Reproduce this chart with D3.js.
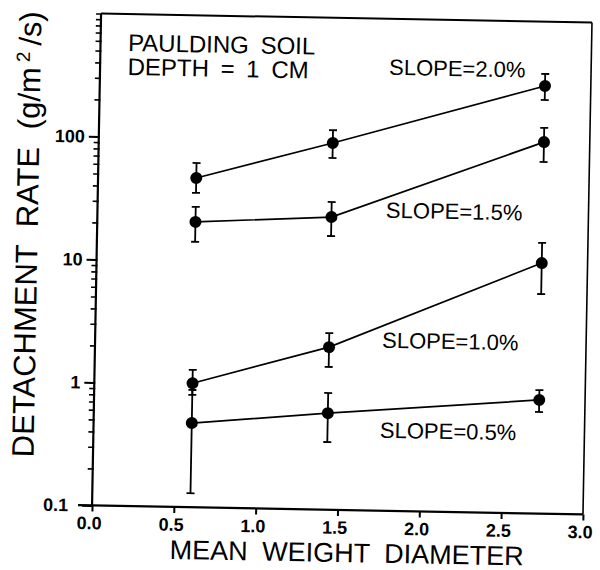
<!DOCTYPE html>
<html>
<head>
<meta charset="utf-8">
<script src="https://cdn.jsdelivr.net/npm/d3@7/dist/d3.min.js"></script>
<style>
  html, body { margin: 0; padding: 0; background: #fff; }
  svg { display: block; }
  text { font-family: "Liberation Sans", Arial, sans-serif; fill: #000; }
</style>
</head>
<body>
<svg id="chart" width="600" height="570"></svg>
<script>
// ---- data ----
const meanWeightDiameter = [0.60, 1.43, 2.72];

const seriesLabels = ["SLOPE=2.0%", "SLOPE=1.5%", "SLOPE=1.0%", "SLOPE=0.5%"];

const rateSlope20 = [47.6, 96, 300];
const lowSlope20  = [36, 72.5, 231];
const highSlope20 = [63, 122, 376];

const rateSlope15 = [20.9, 24.0, 105];
const lowSlope15  = [14.4, 16.8, 72.3];
const highSlope15 = [27.7, 31.8, 137];

const rateSlope10 = [1.02, 2.10, 10.9];
const lowSlope10  = [0.82, 1.45, 6.1];
const highSlope10 = [1.31, 2.73, 15.9];

const rateSlope05 = [0.484, 0.61, 0.84];
const lowSlope05  = [0.130, 0.355, 0.67];
const highSlope05 = [0.90, 0.89, 1.01];

const xTickValues = [0, 0.5, 1.0, 1.5, 2.0, 2.5, 3.0];
const xTickLabels = ["0.0", "0.5", "1.0", "1.5", "2.0", "2.5", "3.0"];
const yTickValues = [0.1, 1, 10, 100];
const yTickLabels = ["0.1", "1", "10", "100"];

const noteLines = ["PAULDING SOIL", "DEPTH = 1 CM"];
const xTitle = "MEAN WEIGHT DIAMETER";

// ---- build ----
const series = [
  { label: seriesLabels[0], rate: rateSlope20, low: lowSlope20, high: highSlope20 },
  { label: seriesLabels[1], rate: rateSlope15, low: lowSlope15, high: highSlope15 },
  { label: seriesLabels[2], rate: rateSlope10, low: lowSlope10, high: highSlope10 },
  { label: seriesLabels[3], rate: rateSlope05, low: lowSlope05, high: highSlope05 }
];
const labelPos = [[385.5, 74], [385, 217], [383.5, 347], [383, 437]];

const L = 96.5, R = 587.5, T = 18, B = 510;
const x = d3.scaleLinear().domain([0, 3]).range([L, R]);
const y = d3.scaleLog().domain([0.1, 1000]).range([B, T]);

const svg = d3.select("#chart");
const g = svg.append("g").attr("transform", "rotate(1.05, 342, 265)");

// frame (top and right)
g.append("line").attr("x1", L).attr("x2", R).attr("y1", T).attr("y2", T)
  .attr("stroke", "#000").attr("stroke-width", 2);
g.append("line").attr("x1", R).attr("x2", R).attr("y1", T).attr("y2", B)
  .attr("stroke", "#000").attr("stroke-width", 1.6);

// minor y ticks
const minors = [];
[0.1, 1, 10, 100].forEach(dec => { for (let k = 2; k <= 10; k++) minors.push(dec * k); });
g.append("g").attr("transform", `translate(${L},0)`)
  .call(d3.axisLeft(y).tickValues(minors).tickSize(5).tickFormat(""))
  .call(a => a.select(".domain").remove())
  .call(a => a.selectAll("line").attr("stroke-width", 1.6).attr("x2", -5).attr("x1", 1));

// major y axis
const yAx = g.append("g").attr("transform", `translate(${L},0)`)
  .call(d3.axisLeft(y).tickValues(yTickValues).tickSize(10).tickPadding(4)
    .tickFormat((d, i) => yTickLabels[i]).tickSizeOuter(0));
yAx.attr("font-size", 18);
yAx.select(".domain").attr("stroke-width", 2.2).attr("d", `M0,${B}V${T}`);
yAx.selectAll("line").attr("stroke-width", 2);
yAx.selectAll("text").style("font-size", "18px").style("font-weight", "bold")
  .style("font-family", '"Liberation Sans", Arial, sans-serif')
  .attr("dx", (d) => d === 0.1 ? -10 : 0);

// x axis
const xAx = g.append("g").attr("transform", `translate(0,${B})`)
  .call(d3.axisBottom(x).tickValues(xTickValues).tickSize(6).tickPadding(5)
    .tickFormat((d, i) => xTickLabels[i]).tickSizeOuter(0));
xAx.attr("font-size", 18);
xAx.select(".domain").attr("stroke-width", 2.2).attr("d", `M${L - 14},0H${R}`);
xAx.selectAll("line").attr("stroke-width", 2);
xAx.selectAll("text").style("font-size", "18px").style("font-weight", "bold")
  .style("font-family", '"Liberation Sans", Arial, sans-serif').attr("dx", -3);

// series
const line = d3.line().x(d => x(d.x)).y(d => y(d.v));
series.forEach((s, si) => {
  const pts = meanWeightDiameter.map((xv, i) => ({ x: xv, v: s.rate[i], lo: s.low[i], hi: s.high[i] }));
  const sg = g.append("g");
  sg.append("path").datum(pts).attr("d", line)
    .attr("fill", "none").attr("stroke", "#000").attr("stroke-width", 1.7);
  const eb = sg.selectAll(".eb").data(pts).join("g");
  eb.append("line").attr("x1", d => x(d.x)).attr("x2", d => x(d.x))
    .attr("y1", d => y(d.lo)).attr("y2", d => y(d.hi))
    .attr("stroke", "#000").attr("stroke-width", 1.8);
  eb.append("line").attr("x1", d => x(d.x) - 4).attr("x2", d => x(d.x) + 4)
    .attr("y1", d => y(d.hi)).attr("y2", d => y(d.hi))
    .attr("stroke", "#000").attr("stroke-width", 1.8);
  eb.append("line").attr("x1", d => x(d.x) - 4).attr("x2", d => x(d.x) + 4)
    .attr("y1", d => y(d.lo)).attr("y2", d => y(d.lo))
    .attr("stroke", "#000").attr("stroke-width", 1.8);
  eb.append("circle").attr("cx", d => x(d.x)).attr("cy", d => y(d.v)).attr("r", 6)
    .attr("fill", "#000");
  sg.append("text").attr("x", labelPos[si][0]).attr("y", labelPos[si][1])
    .style("font-size", "22px").text(s.label);
});

// note
noteLines.forEach((t, i) => {
  g.append("text").attr("x", 124).attr("y", 55 + i * 24)
    .style("font-size", "24px").attr("xml:space", "preserve")
    .style("word-spacing", "5px").text(t);
});

// x title
g.append("text").attr("x", 352).attr("y", 562).attr("text-anchor", "middle")
  .style("font-size", "27px").style("word-spacing", "7px").text(xTitle);

// y title
const yt = g.append("text").attr("transform", "translate(37,240) rotate(-90)")
  .attr("text-anchor", "middle").style("font-size", "31px").style("word-spacing", "9px");
yt.append("tspan").text("DETACHMENT RATE (g/m");
yt.append("tspan").attr("dy", -11).style("font-size", "19px").attr("dx", 5).text("2");
yt.append("tspan").attr("dy", 11).attr("dx", 6).text("/s)");
</script>
</body>
</html>
